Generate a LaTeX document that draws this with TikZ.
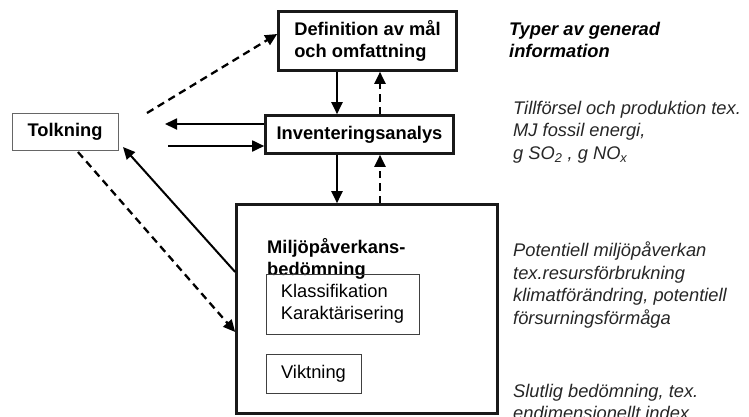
\documentclass[tikz,border=0pt]{standalone}
\usepackage{fontspec}
\setmainfont{Liberation Sans}
\usetikzlibrary{arrows.meta,positioning}

\newcommand{\txt}{\fontsize{18.3}{22.5}\selectfont}

\begin{document}
\begin{tikzpicture}[x=1pt,y=-1pt,
stage/.style={rectangle,draw=black!90,line width=2.6pt,font=\txt\bfseries,
align=left,inner sep=0pt},
part/.style={rectangle,draw=black!75,line width=0.9pt,font=\txt,
align=left,inner sep=0pt},
note/.style={anchor=north west,align=left,inner sep=0pt,font=\txt\itshape,text=black!85},
flow/.style={line width=2.3pt,-{Triangle[length=12pt,width=11pt]}},
back/.style={flow,dash pattern=on 7.5pt off 5pt}]
    \clip (0,0) rectangle (749,416);
    % boxes
    \node[stage,minimum width=178pt,minimum height=59pt] (def) at (367.5,41)
        {Definition av mål\\och omfattning};
    \node[stage,minimum width=188pt,minimum height=38pt] (inv) at (359.5,134.5)
        {Inventeringsanalys};
    \node[stage,minimum width=261pt,minimum height=209pt] (lcia) at (367,309) {};
    \node[part,draw=black!60,font=\txt\bfseries,minimum width=106pt,minimum height=37pt]
        (tolk) at (65,131.5) {Tolkning};
    \node[anchor=north west,align=left,inner sep=0pt,font=\txt\bfseries] (lciatxt)
        at (267,238) {Miljöpåverkans-\\bedömning};
    \node[part,minimum width=153pt,minimum height=60pt] (klass) at (342.5,304)
        {Klassifikation\\Karaktärisering};
    \node[part,minimum width=95pt,minimum height=39pt] (vikt) at (313.5,373.5)
        {Viktning};
    % notes
    \node[note,font=\txt\bfseries\itshape,text=black] (typer) at (509,22)
        {Typer av generad\\information};
    \node[note] (tillf) at (513,101) {Tillförsel och produktion tex.\\MJ fossil energi,\\
        g SO\textsubscript{2} , g NO\textsubscript{x}};
    \node[note] (pot) at (513,242) {Potentiell miljöpåverkan\\tex.resursförbrukning\\
        klimatförändring, potentiell\\försurningsförmåga};
    \node[note] (slut) at (513,384) {Slutlig bedömning, tex.\\endimensionellt index};
    % connectors
    \coordinate (dnx) at (337,0);
    \coordinate (upx) at (380,0);
    \draw[flow] (def.south -| dnx) -- (inv.north -| dnx);
    \draw[back] (inv.north -| upx) -- (def.south -| upx);
    \draw[flow] (inv.south -| dnx) -- (lcia.north -| dnx);
    \draw[back] (lcia.north -| upx) -- (inv.south -| upx);
    \coordinate (outend) at (165,124);
    \coordinate (instart) at (168,146);
    \draw[flow,line width=1.8pt] (inv.west |- outend) -- (outend);
    \draw[flow,line width=1.8pt] (instart) -- (inv.west |- instart);
    \coordinate (tolkup) at (147,113);
    \coordinate (tolkin) at (123,147);
    \coordinate (tolkdn) at (78,152);
    \draw[back] (tolkup) -- ([yshift=7pt]def.west);
    \draw[flow,line width=2pt] ([yshift=37pt]lcia.west) -- (tolkin);
    \draw[back] (tolkdn) -- ([yshift=-23pt]lcia.west);
\end{tikzpicture}
\end{document}
